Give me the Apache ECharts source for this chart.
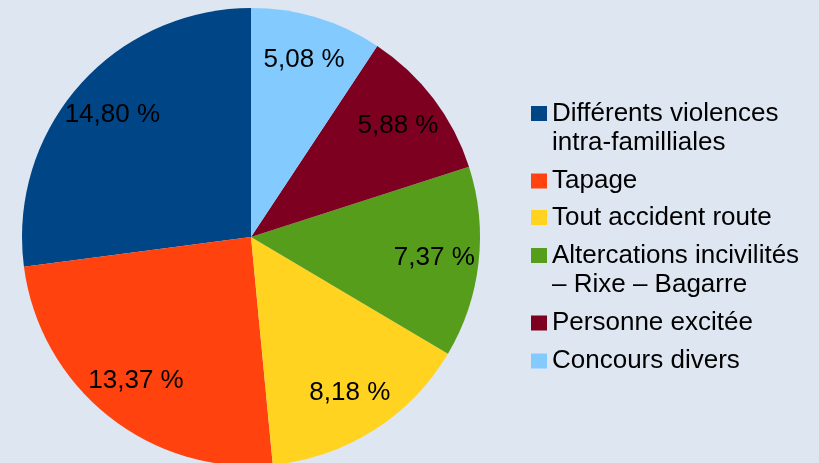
<!DOCTYPE html>
<html>
<head>
<meta charset="utf-8">
<script src="https://cdn.jsdelivr.net/npm/echarts@6/dist/echarts.min.js"></script>
<style>
  html, body { margin: 0; padding: 0; background: #dee6f1; }
  #chart { width: 819px; height: 463px; }
</style>
</head>
<body>
<div id="chart"></div>
<script>
var categories = [
    'Différents violences\nintra-familliales',
    'Tapage',
    'Tout accident route',
    'Altercations incivilités\n– Rixe – Bagarre',
    'Personne excitée',
    'Concours divers'
];
var values = [14.80, 13.37, 8.18, 7.37, 5.88, 5.08];
var colors = ['#004586', '#ff420e', '#ffd320', '#579d1c', '#7e0021', '#83caff'];

var myChart = echarts.init(document.getElementById('chart'));

var pieData = categories.map(function (name, i) {
    return { name: name, value: values[i] };
});

// icon centres of the legend rows (layout only)
var legendCenters = [113.5, 181, 217.5, 255.5, 323, 361];

var legends = categories.map(function (name, i) {
    var twoLines = name.indexOf('\n') >= 0;
    return {
        data: [name],
        orient: 'vertical',
        left: 531,
        top: legendCenters[i] - (twoLines ? 43.5 : 14.5),
        padding: 0,
        icon: 'rect',
        itemWidth: 16,
        itemHeight: 15,
        selectedMode: false,
        // empty first line keeps the square level with the first text line
        formatter: function (n) {
            return twoLines ? '\n' + n : n;
        },
        textStyle: {
            fontFamily: 'Liberation Sans',
            fontSize: 26,
            lineHeight: 29,
            color: '#000'
        }
    };
});

var option = {
    backgroundColor: '#dee6f1',
    color: colors,
    animation: false,
    legend: legends,
    series: [
        {
            type: 'pie',
            center: [251, 237],
            radius: [0, 229],
            startAngle: 90,
            clockwise: false,
            silent: true,
            label: { show: false },
            labelLine: { show: false },
            itemStyle: { borderWidth: 0 },
            data: pieData
        },
        {
            // transparent ring only to place the value labels
            type: 'pie',
            center: [251, 237],
            radius: [134, 229],
            startAngle: 90,
            clockwise: false,
            silent: true,
            itemStyle: { color: 'transparent', borderWidth: 0 },
            label: {
                show: true,
                position: 'inside',
                rotate: 0,
                fontFamily: 'Liberation Sans',
                fontSize: 26,
                color: '#000',
                formatter: function (p) {
                    return p.value.toFixed(2).replace('.', ',') + ' %';
                }
            },
            labelLine: { show: false },
            data: pieData
        }
    ]
};
myChart.setOption(option);
</script>
</body>
</html>
